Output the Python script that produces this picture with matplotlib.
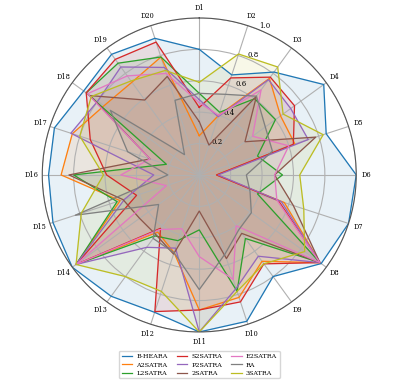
import matplotlib as mpl
mpl.use("Agg")

import numpy as np
import matplotlib.pyplot as plt

# datasets on the spokes
categories = ['D%d' % i for i in range(1, 21)]

methods = ['B-HEARA', 'A2SATRA', 'L2SATRA', 'S2SATRA', 'P2SATRA',
           '2SATRA', 'E2SATRA', 'RA', '3SATRA']

b_heara = [0.80, 0.67, 0.81, 0.98, 0.85, 1.00, 1.00, 0.96, 0.80, 0.98,
           1.00, 0.92, 0.955, 1.00, 0.98, 0.96, 0.97, 0.91, 0.95, 0.915]
a2satra = [0.25, 0.40, 0.76, 0.64, 0.64, 0.11, 0.57, 0.95, 0.68, 0.82,
           0.86, 0.52, 0.45, 0.97, 0.53, 0.88, 0.85, 0.75, 0.73, 0.79]
l2satra = [0.52, 0.42, 0.60, 0.60, 0.39, 0.53, 0.39, 0.95, 0.50, 0.78,
           0.35, 0.44, 0.48, 0.97, 0.55, 0.80, 0.22, 0.89, 0.88, 0.79]
s2satra = [0.43, 0.65, 0.77, 0.75, 0.63, 0.11, 0.53, 0.95, 0.70, 0.85,
           0.86, 0.915, 0.42, 0.97, 0.42, 0.59, 0.73, 0.89, 0.91, 0.89]
p2satra = [0.48, 0.39, 0.75, 0.72, 0.73, 0.12, 0.55, 0.95, 0.64, 0.76,
           1.00, 0.49, 0.57, 0.97, 0.50, 0.29, 0.86, 0.80, 0.85, 0.72]
two_satra = [0.34, 0.20, 0.62, 0.36, 0.78, 0.48, 0.63, 0.95, 0.46, 0.56,
             0.23, 0.53, 0.47, 0.47, 0.51, 0.83, 0.33, 0.86, 0.59, 0.66]
e2satra = [0.46, 0.40, 0.67, 0.42, 0.60, 0.48, 0.52, 0.95, 0.40, 0.70,
           0.52, 0.36, 0.43, 0.97, 0.22, 0.50, 0.33, 0.88, 0.78, 0.68]
ra = [0.52, 0.54, 0.62, 0.52, 0.49, 0.30, 0.34, 0.41, 0.43, 0.53,
      0.73, 0.52, 0.50, 0.32, 0.83, 0.20, 0.48, 0.70, 0.16, 0.50]
three_satra = [0.59, 0.81, 0.85, 0.66, 0.83, 0.64, 0.70, 0.83, 0.70, 0.78,
               1.00, 0.78, 0.80, 0.97, 0.79, 0.61, 0.80, 0.85, 0.74, 0.70]

series = [b_heara, a2satra, l2satra, s2satra, p2satra,
          two_satra, e2satra, ra, three_satra]

plt.rcParams['font.family'] = 'DejaVu Serif'

angles = np.linspace(0, 2 * np.pi, len(categories), endpoint=False)
angles_closed = np.concatenate([angles, angles[:1]])

fig = plt.figure(figsize=(4.1, 3.82), dpi=100)
ax = fig.add_axes([0.103, 0.131, 0.766, 0.822], projection='polar')
ax.set_theta_offset(np.pi / 2)
ax.set_theta_direction(-1)

colors = plt.rcParams['axes.prop_cycle'].by_key()['color']
for name, vals, c in zip(methods, series, colors):
    v = np.concatenate([vals, vals[:1]])
    ax.plot(angles_closed, v, color=c, linewidth=0.9, label=name)
    ax.fill(angles_closed, v, color=c, alpha=0.1)

ax.set_ylim(0, 1.0)
ax.set_yticks([0.2, 0.4, 0.6, 0.8, 1.0])
ax.set_yticklabels(['0.2', '0.4', '0.6', '0.8', '1.0'], fontsize=5)
ax.set_xticks(angles)
ax.set_xticklabels(categories, fontsize=4.8)
ax.tick_params(axis='x', pad=-3)
ax.spines['polar'].set_linewidth(0.8)
ax.spines['polar'].set_color('#555555')

fig.legend(loc='lower center', bbox_to_anchor=(0.486, 0.006), ncol=3,
           fontsize=4.6, handlelength=1.7, columnspacing=1.4, labelspacing=0.45,
           borderpad=0.4, handletextpad=0.6, borderaxespad=0.2)

plt.savefig('out.png', dpi=100)
